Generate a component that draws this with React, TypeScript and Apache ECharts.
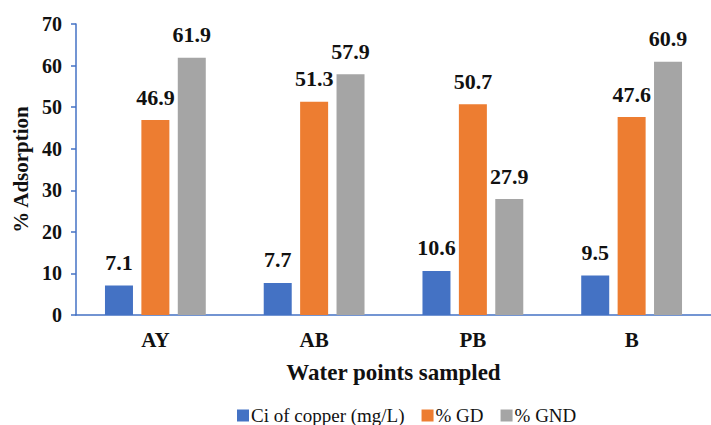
import React, { useEffect, useRef } from "react";
import * as echarts from "echarts";

const categories = ["AY", "AB", "PB", "B"];
const copperCi = [7.1, 7.7, 10.6, 9.5];
const gdPercent = [46.9, 51.3, 50.7, 47.6];
const gndPercent = [61.9, 57.9, 27.9, 60.9];
const seriesNames = ["Ci of copper (mg/L)", "% GD", "% GND"];
const colors = ["#4472C4", "#ED7D31", "#A5A5A5"];

const FONT = "Liberation Serif";

export default function App() {
  const ref = useRef<HTMLDivElement>(null);

  useEffect(() => {
    if (!ref.current) return;
    const chart = echarts.init(ref.current, undefined, { renderer: "svg" });
    const label = {
      show: true,
      position: "top" as const,
      distance: 12,
      fontFamily: FONT,
      fontSize: 22,
      fontWeight: "bold" as const,
      color: "#111",
    };
    const values = [copperCi, gdPercent, gndPercent];
    chart.setOption({
      animation: false,
      backgroundColor: "#fff",
      textStyle: { fontFamily: FONT },
      grid: { left: 76, right: -10, top: 24, bottom: 110 },
      legend: {
        bottom: -5,
        left: 232,
        itemWidth: 12,
        itemHeight: 12,
        itemGap: 17,
        icon: "rect",
        textStyle: { fontFamily: FONT, fontSize: 19, color: "#111", padding: [0, 0, 0, -3] },
        data: seriesNames,
      },
      xAxis: {
        type: "category",
        data: categories,
        name: "Water points sampled",
        nameLocation: "middle",
        nameGap: 46,
        nameTextStyle: { fontFamily: FONT, fontSize: 23, fontWeight: "bold", color: "#111" },
        axisLine: { lineStyle: { color: "#4472C4", width: 1.5 } },
        axisTick: { show: false },
        axisLabel: { fontFamily: FONT, fontSize: 21, fontWeight: "bold", color: "#111", margin: 14 },
      },
      yAxis: {
        type: "value",
        min: 0,
        max: 70,
        interval: 10,
        name: "% Adsorption",
        nameLocation: "middle",
        nameGap: 38,
        nameTextStyle: { fontFamily: FONT, fontSize: 21, fontWeight: "bold", color: "#111" },
        axisLine: { show: true, lineStyle: { color: "#4472C4", width: 1.5 } },
        axisTick: { show: true, length: 5, lineStyle: { color: "#4472C4", width: 1.5 } },
        splitLine: { show: false },
        axisLabel: { fontFamily: FONT, fontSize: 20, fontWeight: "bold", color: "#111", margin: 14 },
      },
      series: seriesNames.map((name, i) => ({
        name,
        type: "bar",
        data: values[i],
        barWidth: 28,
        barGap: "30%",
        itemStyle: { color: colors[i] },
        label,
      })),
    });
    return () => chart.dispose();
  }, []);

  return (
    <div
      ref={ref}
      style={{ position: "fixed", left: 0, top: 0, width: 711, height: 425 }}
    />
  );
}
